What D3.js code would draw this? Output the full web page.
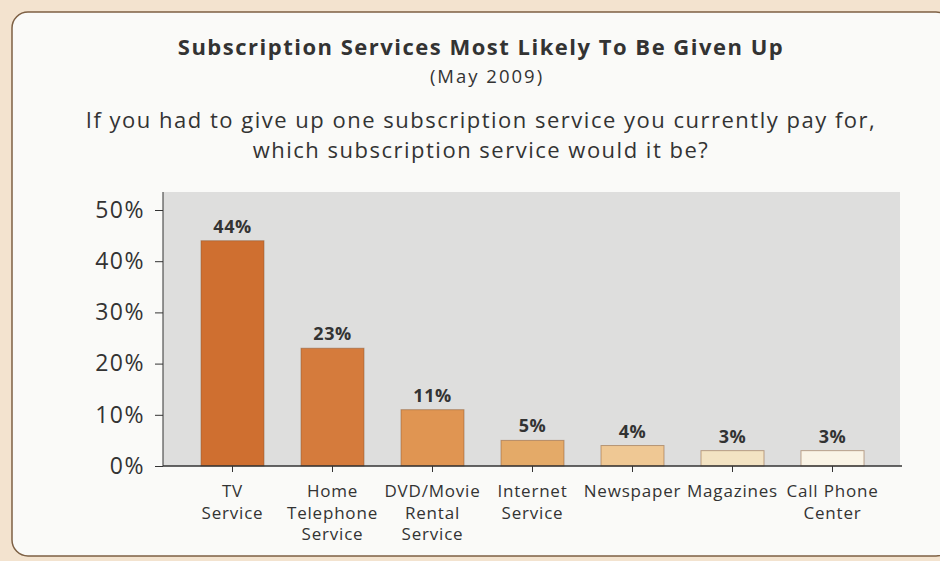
<!DOCTYPE html>
<html>
<head>
<meta charset="utf-8">
<script src="https://cdn.jsdelivr.net/npm/d3@7"></script>
<style>
  html, body { margin: 0; padding: 0; background: #f3e3cf; }
  svg { display: block; }
  text { font-family: "Open Sans", sans-serif; fill: #333; }
</style>
</head>
<body>
<svg id="chart" width="940" height="561"></svg>
<script>
(function() {

  // Categories (one label line per array entry).
  var categories = [
    ["TV", "Service"],
    ["Home", "Telephone", "Service"],
    ["DVD/Movie", "Rental", "Service"],
    ["Internet", "Service"],
    ["Newspaper"],
    ["Magazines"],
    ["Call Phone", "Center"]
  ];

  // Share of respondents, percent.
  var values = [44, 23, 11, 5, 4, 3, 3];

  // Y tick values.
  var yTicks = [0, 10, 20, 30, 40, 50];

  // Bar fills, dark to pale.
  var colours = [
    "#cf6f30",
    "#d57b3c",
    "#e09552",
    "#e4aa68",
    "#efc894",
    "#f3e3c3",
    "#faf4e6"
  ];

  var title = "Subscription Services Most Likely To Be Given Up";
  var subtitle = "(May 2009)";
  var question = [
    "If you had to give up one subscription service you currently pay for,",
    "which subscription service would it be?"
  ];

  // Plot box.
  var left = 163, right = 902, top = 192, bottom = 466;

  var svg = d3.select("#chart");

  // Card with rounded border.
  svg.append("rect")
    .attr("x", 12).attr("y", 12)
    .attr("width", 940).attr("height", 544)
    .attr("rx", 16)
    .attr("fill", "#fafaf8")
    .attr("stroke", "#7d6044")
    .attr("stroke-width", 1.5);

  // Titles.
  svg.append("text")
    .attr("x", 481).attr("y", 55)
    .attr("text-anchor", "middle")
    .attr("font-size", 22)
    .attr("font-weight", "bold")
    .attr("letter-spacing", 1.5)
    .text(title);

  svg.append("text")
    .attr("x", 487).attr("y", 83)
    .attr("text-anchor", "middle")
    .attr("font-size", 18.5)
    .attr("letter-spacing", 2)
    .text(subtitle);

  svg.selectAll(".question")
    .data(question)
    .enter()
    .append("text")
    .attr("class", "question")
    .attr("x", 481)
    .attr("y", function(d, i) { return 128 + i * 30; })
    .attr("text-anchor", "middle")
    .attr("font-size", 22)
    .attr("letter-spacing", 1.5)
    .text(function(d) { return d; });

  // Scales.
  var x = d3.scaleBand()
    .domain(d3.range(values.length))
    .range([left, right])
    .paddingInner(0.37)
    .paddingOuter(0.38);

  var y = d3.scaleLinear()
    .domain([0, 50])
    .range([bottom, 210]);

  // Gray plot background.
  svg.append("rect")
    .attr("x", left).attr("y", top)
    .attr("width", 900 - left).attr("height", bottom - top)
    .attr("fill", "#dededd");

  // Bars.
  svg.selectAll(".bar")
    .data(values)
    .enter()
    .append("rect")
    .attr("class", "bar")
    .attr("x", function(d, i) { return x(i); })
    .attr("y", function(d) { return y(d); })
    .attr("width", x.bandwidth())
    .attr("height", function(d) { return bottom - y(d); })
    .attr("fill", function(d, i) { return colours[i]; })
    .attr("stroke", "#8a5a35")
    .attr("stroke-opacity", 0.5)
    .attr("stroke-width", 1);

  // Value labels.
  svg.selectAll(".value")
    .data(values)
    .enter()
    .append("text")
    .attr("class", "value")
    .attr("x", function(d, i) { return x(i) + x.bandwidth() / 2; })
    .attr("y", function(d) { return y(d) - 8; })
    .attr("text-anchor", "middle")
    .attr("font-size", 18)
    .attr("font-weight", "bold")
    .attr("letter-spacing", 0.5)
    .text(function(d) { return d + "%"; });

  // Y axis.
  var yAxis = svg.append("g")
    .attr("transform", "translate(" + left + ",0)")
    .call(d3.axisLeft(y)
      .tickValues(yTicks)
      .tickSize(8)
      .tickPadding(10)
      .tickFormat(function(d) { return d + "%"; }));
  yAxis.select(".domain")
    .attr("d", "M0," + top + "V" + bottom)
    .attr("stroke", "#333");
  yAxis.selectAll(".tick line").attr("stroke", "#333");
  yAxis.selectAll(".tick text")
    .attr("font-size", 23)
    .attr("letter-spacing", 1.5)
    .attr("font-family", "'Open Sans', sans-serif")
    .attr("fill", "#333");

  // X axis.
  var xAxis = svg.append("g")
    .attr("transform", "translate(0," + bottom + ")")
    .call(d3.axisBottom(x).tickSize(6).tickFormat(""));
  xAxis.select(".domain")
    .attr("d", "M" + left + ",0H" + right)
    .attr("stroke", "#333")
    .attr("stroke-width", 1.5);
  xAxis.selectAll(".tick line").attr("stroke", "#333");

  // Category labels.
  var labels = svg.selectAll(".cat")
    .data(categories)
    .enter()
    .append("text")
    .attr("class", "cat")
    .attr("text-anchor", "middle")
    .attr("font-size", 17)
    .attr("letter-spacing", 0.8)
    .attr("x", function(d, i) { return x(i) + x.bandwidth() / 2; })
    .attr("y", bottom + 31);

  labels.selectAll("tspan")
    .data(function(d, i) {
      return d.map(function(t) { return { t: t, cx: x(i) + x.bandwidth() / 2 }; });
    })
    .enter()
    .append("tspan")
    .attr("x", function(d) { return d.cx; })
    .attr("dy", function(d, j) { return j === 0 ? 0 : 21.5; })
    .text(function(d) { return d.t; });

})();
</script>
</body>
</html>
